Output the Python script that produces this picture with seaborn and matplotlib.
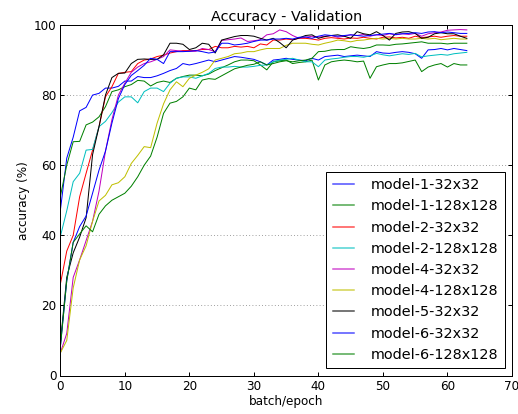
import numpy as np
import pandas as pd
import matplotlib
matplotlib.use("Agg")
import matplotlib.pyplot as plt
import seaborn as sns

# ---------------- data ----------------
epochs = list(range(64))

model_names = ["model-1-32x32", "model-1-128x128", "model-2-32x32", "model-2-128x128",
               "model-4-32x32", "model-4-128x128", "model-5-32x32", "model-6-32x32",
               "model-6-128x128"]

model_1_32 = [47, 62, 68, 75.5, 76.5, 80, 80.5, 82, 82, 82.5, 84, 84, 85.3, 85, 85, 85.5,
              86.2, 87, 87.6, 89, 88.6, 89, 89.5, 90, 89.5, 90, 90.5, 91, 90.8, 90.5, 90.2, 89.5,
              88.6, 90, 90.2, 90.5, 90.2, 90, 89.8, 90.5, 90, 91, 91.2, 91.4, 91, 91.2,
              91.4, 91.2, 91, 92.4, 92, 91.9, 92.2, 92.4, 92.2, 91.8, 90.5, 92.9, 93, 93.3,
              92.9, 93.3, 93, 92.7]

model_1_128 = [51, 60, 66.7, 66.8, 71.5, 72.3, 73.8, 76.7, 81, 81.5, 82.4, 83, 84.2, 84, 82.6, 83.6,
               84, 83.6, 84.8, 85.3, 85.7, 85.7, 85.5, 86, 87, 87.8, 88.6, 89.5, 90, 90, 89.8, 88.6,
               87.2, 89.5, 89.8, 90, 89, 89.3, 89.5, 90, 84.3, 88.6, 89.5, 89.8, 90, 89.8,
               89.5, 89.7, 84.8, 88.1, 88.6, 89, 89, 89.2, 89.6, 90, 86.7, 88, 88.6, 89,
               88, 89, 88.6, 88.6]

model_2_32 = [26, 35.5, 40, 51, 57.7, 64.3, 71, 79.5, 82.4, 86.2, 86.5, 86.7, 89, 90, 90.3, 91,
              91.4, 92, 92.4, 92.7, 92.7, 92.7, 93, 93, 93.9, 93.5, 93.5, 93.9, 93.7, 93.9, 93.5, 94.6,
              94.3, 95.7, 95.7, 96, 95.8, 96.2, 96.2, 96, 95.7, 96.2, 96.4, 96.2, 96, 96.3,
              96.2, 96.5, 96.2, 96, 96.5, 96.6, 96.3, 96.5, 96.2, 96.8, 96.4, 96.6, 96.8, 96.5,
              96.8, 97, 96.8, 96.8]

model_2_128 = [39.6, 47, 55.3, 57.7, 64.3, 64.5, 71, 72.5, 75, 78, 79.5, 79.5, 77.8, 81, 82, 82,
               81, 83.4, 84.8, 85.2, 85.2, 84.8, 85.5, 86.2, 87.6, 88, 88, 88.2, 88, 88, 88.2, 88.5,
               88.6, 89.5, 90, 90.2, 90.5, 90, 89.5, 89.5, 88.1, 90, 90.3, 90.5, 90.8, 91,
               91, 90.8, 91.2, 91.9, 91.5, 91.2, 91.5, 91.8, 91.6, 91.9, 90.9, 91.2, 91.4, 91.6,
               91.4, 91.8, 92, 92.2]

model_4_32 = [6.4, 12, 28, 33, 38.5, 44, 52.6, 64, 73, 80, 83.4, 86.5, 88, 89, 89.5, 90.2,
              91, 92.9, 92.7, 92.5, 92.5, 92.5, 93.3, 93, 92.4, 95.6, 95.8, 96, 96.3, 95.3, 95.5, 95.8,
              97.2, 97.5, 98.6, 98.1, 97, 96.2, 96.5, 96.8, 96.5, 96.8, 97, 96.5, 96.8, 97.2,
              97, 97.3, 96.8, 97.2, 97, 97.5, 97.2, 97.5, 97.3, 97.6, 96.8, 97.5, 97.8, 98,
              98.5, 98.6, 98.7, 98.6]

model_4_128 = [6.4, 10, 25, 33, 37, 44, 49.8, 51.4, 54.4, 55, 56.7, 60.5, 62.8, 65.3, 65, 72,
               77.5, 81.5, 83.8, 82.4, 84.8, 85.7, 86.5, 87.5, 90, 90.5, 91, 91.8, 92, 92.4, 92.4, 92.9,
               93.3, 93.3, 93.3, 94.2, 94.8, 94.8, 94.8, 94.5, 94.3, 94.8, 95.2, 95.7, 95.5, 95.2,
               95.6, 95.7, 96, 96.2, 96, 96.2, 96, 96.2, 96, 96, 96.2, 96, 96.2, 95.8,
               96, 96.2, 96, 96]

model_5_32 = [9, 28, 35, 39.5, 45, 63, 71, 80, 85, 86.2, 86.3, 89, 90.2, 90.3, 90.2, 90.2,
              91.5, 94.8, 94.8, 94.5, 93, 93.5, 94.8, 94.5, 92, 95.7, 96.2, 96.7, 97, 97, 96.8, 96.2,
              95.7, 96.2, 95, 93.5, 95.7, 96.3, 97, 97.2, 96.2, 96.7, 97, 97.2, 96.8, 96.2,
              98.1, 97.5, 97.2, 98.1, 97, 95.7, 97.6, 98, 98.1, 97.6, 96.2, 96.5, 97.5, 97.8,
              97.5, 97.5, 96.8, 96.2]

model_6_32 = [8, 27, 38, 42.5, 45.5, 52, 58.6, 64, 72, 79, 83, 85.6, 87, 88.5, 90.5, 90.2,
              89, 92.4, 92.4, 92.4, 92.5, 92.7, 92.4, 92, 92.3, 94.8, 94.8, 94.3, 94.5, 94.8, 95.3, 95.7,
              95.7, 96, 96, 96.2, 96, 96.5, 96.6, 96.2, 96.8, 97.2, 97, 96.8, 97, 97.2,
              97, 96.8, 97, 97.2, 97.4, 97.6, 97.3, 97.5, 97.6, 97.8, 97.6, 98, 98.1, 97.8,
              98, 97.8, 97.6, 97.6]

model_6_128 = [8, 27, 38, 40.4, 42.7, 41, 46, 48.4, 50, 51, 52, 54, 56.7, 60, 62.6, 68,
               74.8, 77.7, 78.2, 79.5, 82, 81.5, 84.3, 84.7, 84.5, 85.5, 86.5, 87.5, 88, 88.5, 88.8, 89.5,
               88.6, 89, 89.5, 89.8, 89.5, 89.8, 90, 90.5, 92.4, 92.5, 92.9, 93, 93, 93.8,
               93.5, 93.3, 93.6, 94.3, 94.3, 94.2, 94.5, 94.6, 94.8, 95, 95.2, 94.8, 94.8, 94.8,
               94.6, 94.8, 94.8, 94.8]

series = [model_1_32, model_1_128, model_2_32, model_2_128, model_4_32,
          model_4_128, model_5_32, model_6_32, model_6_128]

x_ticks = [0, 10, 20, 30, 40, 50, 60, 70]
y_ticks = [0, 20, 40, 60, 80, 100]

# ---------------- build long table ----------------
rows = []
for name, vals in zip(model_names, series):
    for e, v in zip(epochs, vals):
        rows.append((name, e, v))
df = pd.DataFrame(rows, columns=["model", "epoch", "accuracy"])

classic = [(0, 0, 1), (0, 0.5, 0), (1, 0, 0), (0, 0.75, 0.75),
           (0.75, 0, 0.75), (0.75, 0.75, 0), (0, 0, 0)]
palette = {n: classic[i % len(classic)] for i, n in enumerate(model_names)}

# ---------------- figure ----------------
plt.rcParams["font.family"] = ["DejaVu Sans"]
plt.rcParams["font.size"] = 12
plt.rcParams["xtick.direction"] = "in"
plt.rcParams["ytick.direction"] = "in"
plt.rcParams["xtick.major.size"] = 4
plt.rcParams["ytick.major.size"] = 4
plt.rcParams["xtick.top"] = True
plt.rcParams["ytick.right"] = True

W, H = 518, 414
fig = plt.figure(figsize=(W / 72, H / 72), dpi=72)
ax = fig.add_axes([60.3 / W, 1 - 375.5 / H, (512 - 60.3) / W, (375.5 - 25) / H])

sns.lineplot(data=df, x="epoch", y="accuracy", hue="model", hue_order=model_names,
             palette=palette, linewidth=1.0, errorbar=None, ax=ax, legend=False)

ax.set_xlim(0, 70)
ax.set_ylim(0, 100)
ax.set_xticks(x_ticks)
ax.set_yticks(y_ticks)
ax.tick_params(labelsize=12, width=1, length=4, pad=4)
ax.yaxis.grid(True, linestyle=(0, (1, 3)), color="0.45", linewidth=0.8)
ax.xaxis.grid(False)
for s in ax.spines.values():
    s.set_linewidth(1.0)
    s.set_color("black")

ax.set_title("Accuracy - Validation", fontsize=14.4, pad=4)
ax.set_xlabel("batch/epoch", fontsize=12, labelpad=3)
ax.set_ylabel("accuracy (%)", fontsize=12, labelpad=4)

handles = ax.get_lines()[:len(model_names)]
leg = ax.legend(handles, model_names, loc="lower right", fontsize=14.4, frameon=True,
                fancybox=False, edgecolor="black", framealpha=1, handlelength=1.5,
                handletextpad=1.15, borderpad=0.45, labelspacing=0.5, borderaxespad=0.5)
leg.get_frame().set_linewidth(1.0)
for h in leg.get_lines():
    h.set_linewidth(1.5)
    h.set_alpha(0.7)

fig.savefig("out.png", dpi=72)
